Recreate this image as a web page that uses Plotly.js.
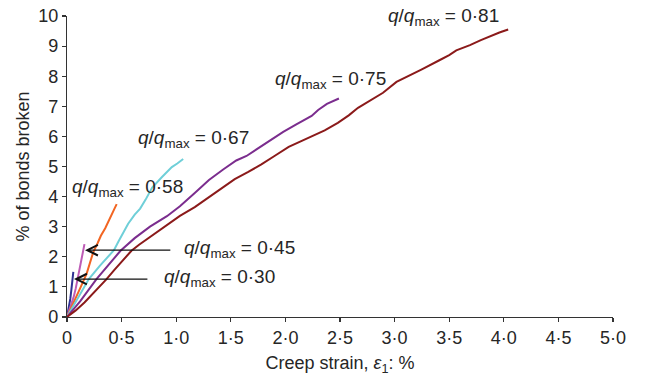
<!DOCTYPE html>
<html>
<head>
<meta charset="utf-8">
<script src="https://cdn.plot.ly/plotly-3.0.1.min.js"></script>
<style>html,body{margin:0;padding:0;background:#fff;}#chart{width:645px;height:378px;}</style>
</head>
<body>
<div id="chart"></div>
<script>
// ---- data ----
const ratioLabels = ["0·30", "0·45", "0·58", "0·67", "0·75", "0·81"];
const seriesColors = ["#2e3192", "#bd5cb6", "#f26522", "#6fcfd8", "#7b2d8e", "#8b1a1a"];

const x030 = [0, 0.015, 0.03, 0.04, 0.05, 0.058];
const y030 = [0, 0.25, 0.6, 0.9, 1.2, 1.5];

const x045 = [0, 0.03, 0.06, 0.08, 0.10, 0.12, 0.14, 0.16];
const y045 = [0, 0.3, 0.65, 0.95, 1.3, 1.65, 2.05, 2.42];

const x058 = [0, 0.06, 0.12, 0.18, 0.24, 0.28, 0.31, 0.35, 0.38, 0.41, 0.435, 0.455];
const y058 = [0, 0.45, 0.95, 1.44, 2.15, 2.45, 2.7, 2.95, 3.2, 3.45, 3.6, 3.75];

const x067 = [0, 0.09, 0.20, 0.30, 0.36, 0.43, 0.47, 0.52, 0.56, 0.62, 0.67, 0.72, 0.78, 0.87, 0.96, 1.01, 1.064];
const y067 = [0, 0.55, 1.26, 1.7, 1.95, 2.22, 2.5, 2.85, 3.1, 3.4, 3.6, 3.9, 4.3, 4.65, 4.98, 5.1, 5.25];

const x075 = [0, 0.12, 0.27, 0.366, 0.49, 0.62, 0.76, 0.915, 1.034, 1.17, 1.3, 1.43, 1.55, 1.644, 1.75, 1.857, 1.98, 2.1, 2.24, 2.30, 2.38, 2.49];
const y075 = [0, 0.52, 1.26, 1.68, 2.2, 2.62, 3.0, 3.35, 3.68, 4.12, 4.55, 4.9, 5.2, 5.35, 5.6, 5.87, 6.15, 6.4, 6.68, 6.88, 7.08, 7.26];

const x081 = [0, 0.08, 0.16, 0.24, 0.30, 0.36, 0.43, 0.50, 0.59, 0.66, 0.73, 0.82, 0.915, 1.034, 1.17, 1.25, 1.40, 1.536, 1.66, 1.78, 1.9, 2.03, 2.15, 2.24, 2.36, 2.48, 2.58, 2.665, 2.78, 2.894, 3.017, 3.10, 3.245, 3.41, 3.5, 3.565, 3.69, 3.79, 3.87, 3.96, 4.04];
const y081 = [0, 0.22, 0.48, 0.78, 1.0, 1.25, 1.55, 1.85, 2.2, 2.4, 2.58, 2.82, 3.04, 3.36, 3.65, 3.85, 4.25, 4.58, 4.82, 5.07, 5.35, 5.65, 5.85, 6.0, 6.2, 6.45, 6.7, 6.95, 7.2, 7.45, 7.81, 7.95, 8.22, 8.53, 8.7, 8.86, 9.03, 9.2, 9.33, 9.45, 9.55];

const xTickVals = [0, 0.5, 1, 1.5, 2, 2.5, 3, 3.5, 4, 4.5, 5];
const xTickText = ["0", "0·5", "1·0", "1·5", "2·0", "2·5", "3·0", "3·5", "4·0", "4·5", "5·0"];
const yTickVals = [0, 1, 2, 3, 4, 5, 6, 7, 8, 9, 10];

// label anchor points (left edge, middle) for each series label
const labelX = [0.87, 1.05, 0.03, 0.63, 1.89, 2.92];
const labelY = [1.28, 2.27, 4.28, 5.93, 7.86, 9.97];

// arrows: head -> tail
const arrowHeadX = [0.064, 0.165];
const arrowHeadY = [1.26, 2.22];
const arrowTailX = [0.75, 0.96];

// ---- build ----
const xs = [x030, x045, x058, x067, x075, x081];
const ys = [y030, y045, y058, y067, y075, y081];
const FONT = "Liberation Sans, Arial, sans-serif";
const TXT = "#262626";

const traces = xs.map((xv, i) => ({
  x: xv, y: ys[i], type: "scatter", mode: "lines",
  line: {color: seriesColors[i], width: 2},
  hoverinfo: "skip", showlegend: false
}));

const annotations = [];
ratioLabels.forEach((r, i) => {
  annotations.push({
    x: labelX[i], y: labelY[i], xref: "x", yref: "y",
    xanchor: "left", yanchor: "middle", showarrow: false,
    text: "<i>q</i>/<i>q</i><sub>max</sub> = " + r,
    font: {family: FONT, size: 19, color: TXT}
  });
});
arrowHeadX.forEach((hx, i) => {
  annotations.push({
    x: hx, y: arrowHeadY[i], xref: "x", yref: "y",
    ax: arrowTailX[i], ay: arrowHeadY[i], axref: "x", ayref: "y",
    text: "", showarrow: true, arrowhead: 5, arrowsize: 1.6, arrowwidth: 1.3,
    arrowcolor: "#111", standoff: 0, startstandoff: 0
  });
});

const layout = {
  width: 645, height: 378,
  margin: {l: 67, r: 32, t: 16, b: 61},
  paper_bgcolor: "#fff", plot_bgcolor: "#fff",
  font: {family: FONT, size: 18, color: TXT},
  showlegend: false,
  xaxis: {
    range: [0, 5], tickvals: xTickVals, ticktext: xTickText,
    showgrid: false, zeroline: false, showline: true, linecolor: "#333", linewidth: 1.2,
    ticks: "outside", ticklen: 4, tickwidth: 1.2, tickcolor: "#333",
    tickfont: {family: FONT, size: 18, color: TXT},
    title: {text: "Creep strain, <i>ε</i><sub>1</sub>: %", font: {family: FONT, size: 18, color: TXT}, standoff: 9},
    fixedrange: true
  },
  yaxis: {
    range: [0, 10], tickvals: yTickVals,
    showgrid: false, zeroline: false, showline: true, linecolor: "#333", linewidth: 1.2,
    ticks: "outside", ticklen: 4, tickwidth: 1.2, tickcolor: "#333",
    tickfont: {family: FONT, size: 18, color: TXT},
    title: {text: "% of bonds broken", font: {family: FONT, size: 18, color: TXT}, standoff: 3},
    fixedrange: true
  },
  annotations: annotations
};

Plotly.newPlot("chart", traces, layout, {displayModeBar: false, staticPlot: true});
</script>
</body>
</html>
